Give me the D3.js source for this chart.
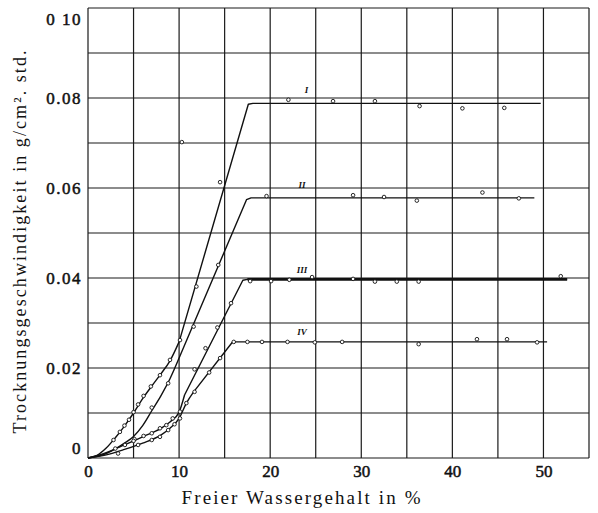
<!DOCTYPE html>
<html><head><meta charset="utf-8">
<script src="https://cdn.jsdelivr.net/npm/d3@7"></script>
<style>
html,body{margin:0;padding:0;background:#fff;}
svg{display:block;}
text{font-family:"Liberation Serif","DejaVu Serif",serif;fill:#111;}
</style></head>
<body>
<svg id="chart" width="598" height="513"></svg>
<script>
// ---- data ----
const xTicks = [0, 10, 20, 30, 40, 50];
const xTickLabels = ["0", "10", "20", "30", "40", "50"];
const yTicks = [0, 0.02, 0.04, 0.06, 0.08, 0.10];
const yTickLabels = ["0", "0.02", "0.04", "0.06", "0.08", "0 10"];
const xGrid = [0, 5, 10, 15, 20, 25, 30, 35, 40, 45, 50, 55];
const yGrid = [0, 0.01, 0.02, 0.03, 0.04, 0.05, 0.06, 0.07, 0.08, 0.09, 0.10];
const seriesNames = ["I", "II", "III", "IV"];

// drawn curves (x = % water, y = g/cm² std.)
const curveI = [[0,0],[1,0.0006],[2,0.0022],[3,0.0045],[4,0.0071],[5,0.0100],[6,0.0132],[7,0.0160],[8,0.0187],[9,0.0216],[10,0.0258],[17.6,0.0786],[18.1,0.0788],[49.7,0.0788]];
const curveII = [[0,0],[2,0.0010],[4,0.0033],[5,0.0048],[6,0.0072],[7,0.0105],[8,0.0138],[9,0.0176],[10,0.0222],[17.4,0.0574],[17.9,0.0578],[49,0.0578]];
const curveIII = [[0,0],[2,0.0012],[4,0.0029],[6,0.0047],[8,0.0066],[9,0.0080],[10,0.0102],[10.6,0.0140],[17.0,0.0395],[17.5,0.0397],[52.6,0.0397]];
const curveIV = [[0,0],[2,0.0007],[4,0.0019],[6,0.0033],[8,0.0051],[9,0.0066],[10,0.0088],[10.8,0.0122],[11.6,0.0147],[15.8,0.0256],[16.2,0.0258],[50.4,0.0258]];
// x where each hand-drawn curve turns into straight segments
const bendX = [10, 10, 10.6, 11.6];

// measured points
const pointsI = [[2.8,0.0040],[3.5,0.0058],[4.0,0.0072],[4.5,0.0085],[5.0,0.0102],[5.5,0.0119],[6.1,0.0138],[6.9,0.0159],[7.9,0.0184],[9.0,0.0218],[10.1,0.0262],[11.9,0.0381],[14.5,0.0613],[10.3,0.0702],[22.0,0.0796],[26.9,0.0793],[31.5,0.0793],[36.4,0.0782],[41.1,0.0777],[45.7,0.0778]];
const pointsII = [[5.1,0.0042],[7.0,0.0112],[8.8,0.0166],[11.6,0.0292],[14.3,0.0429],[19.6,0.0582],[29.1,0.0584],[32.5,0.0580],[36.1,0.0572],[43.3,0.0590],[47.3,0.0577]];
const pointsIII = [[3.0,0.0021],[4.05,0.0029],[5.0,0.0038],[6.1,0.0049],[7.0,0.0055],[7.9,0.0066],[8.6,0.0073],[9.3,0.0088],[10.1,0.0103],[11.7,0.0197],[12.9,0.0244],[14.2,0.0290],[15.7,0.0344],[17.8,0.0393],[20.1,0.0393],[22.1,0.0396],[24.6,0.0402],[29.1,0.0398],[31.5,0.0392],[33.9,0.0392],[36.3,0.0392],[51.9,0.0404]];
const pointsIV = [[3.3,0.0010],[5.5,0.0029],[7.0,0.0040],[7.9,0.0047],[8.8,0.0062],[9.5,0.0075],[10.1,0.0088],[10.8,0.0122],[11.7,0.0147],[13.3,0.0190],[14.5,0.0222],[16.0,0.0258],[17.5,0.0258],[19.1,0.0258],[21.9,0.0258],[24.9,0.0257],[27.9,0.0258],[36.3,0.0253],[42.7,0.0264],[46.0,0.0264],[49.3,0.0257]];

// label anchor positions (data coords)
const labelPos = [[24.0,0.0812],[23.5,0.0600],[23.5,0.0412],[23.5,0.0274]];

// ---- drawing ----
const svg = d3.select("#chart");
const x = d3.scaleLinear().domain([0, 55]).range([88, 589]);
const y = d3.scaleLinear().domain([0, 0.10]).range([458, 8]);

// grid
const g = svg.append("g");
g.selectAll(".vg").data(xGrid).join("line")
  .attr("x1", d => x(d)).attr("x2", d => x(d))
  .attr("y1", y(0)).attr("y2", y(0.10))
  .attr("stroke", "#1a1a1a").attr("stroke-width", 1.2);
g.selectAll(".hg").data(yGrid).join("line")
  .attr("y1", d => y(d)).attr("y2", d => y(d))
  .attr("x1", x(0)).attr("x2", x(55))
  .attr("stroke", "#1a1a1a").attr("stroke-width", 1.2);

const tickFont = '"Liberation Serif", "DejaVu Serif", serif';
// axes (labels only)
const xAxis = d3.axisBottom(x).tickValues(xTicks).tickSize(0)
  .tickFormat((d, i) => xTickLabels[i]);
const gx = svg.append("g").attr("transform", `translate(0,${y(0)})`).call(xAxis)
  .attr("font-family", tickFont).attr("font-size", 17);
gx.select(".domain").remove();
gx.selectAll("text").attr("dy", 0).attr("y", 19)
  .attr("fill", "#111").attr("stroke", "#111").attr("stroke-width", 0.5);

const yAxis = d3.axisLeft(y).tickValues(yTicks).tickSize(0)
  .tickFormat((d, i) => yTickLabels[i]);
const gy = svg.append("g").attr("transform", `translate(${x(0)},0)`).call(yAxis)
  .attr("font-family", tickFont).attr("font-size", 17);
gy.select(".domain").remove();
gy.selectAll("text").attr("x", -6)
  .attr("letter-spacing", "1.5px").attr("fill", "#111")
  .attr("stroke", "#111").attr("stroke-width", 0.5)
  .attr("dy", (d) => d === 0 ? "-0.25em" : (d === 0.10 ? "0.95em" : "0.32em"));

// curves: smooth lower part, straight rising part and plateau
const smooth = d3.line().x(d => x(d[0])).y(d => y(d[1])).curve(d3.curveMonotoneX);
const straight = d3.line().x(d => x(d[0])).y(d => y(d[1]));
const curves = [curveI, curveII, curveIII, curveIV];
curves.forEach((c, i) => {
  svg.append("path").datum(c.filter(p => p[0] <= bendX[i]))
    .attr("d", smooth).attr("fill", "none").attr("stroke", "#111").attr("stroke-width", 1.4);
  svg.append("path").datum(c.filter(p => p[0] >= bendX[i]))
    .attr("d", straight).attr("fill", "none").attr("stroke", "#111").attr("stroke-width", 1.4)
    .attr("stroke-linejoin", "round");
});
// heavier plateau for III
svg.append("path").datum(curveIII.slice(-2))
  .attr("d", straight).attr("fill", "none").attr("stroke", "#111").attr("stroke-width", 2.6);

// points
const allPoints = [pointsI, pointsII, pointsIII, pointsIV];
allPoints.forEach(pts => {
  svg.append("g").selectAll("circle").data(pts).join("circle")
    .attr("cx", d => x(d[0])).attr("cy", d => y(d[1])).attr("r", 1.8)
    .attr("fill", "#fff").attr("stroke", "#111").attr("stroke-width", 0.9);
});

// series labels
svg.selectAll(".slab").data(seriesNames).join("text")
  .attr("x", (d, i) => x(labelPos[i][0])).attr("y", (d, i) => y(labelPos[i][1]))
  .attr("text-anchor", "middle")
  .style("font-size", "9px").style("font-style", "italic").style("font-weight", "bold")
  .text(d => d);

// axis titles
svg.append("text")
  .attr("transform", "translate(26,242) rotate(-90)")
  .attr("text-anchor", "middle")
  .attr("textLength", 383).attr("lengthAdjust", "spacing")
  .style("font-size", "18px")
  .text("Trocknungsgeschwindigkeit in g/cm². std.");
svg.append("text")
  .attr("x", 301).attr("y", 504)
  .attr("text-anchor", "middle")
  .attr("textLength", 239).attr("lengthAdjust", "spacing")
  .style("font-size", "19px")
  .text("Freier Wassergehalt in %");
</script>
</body></html>
